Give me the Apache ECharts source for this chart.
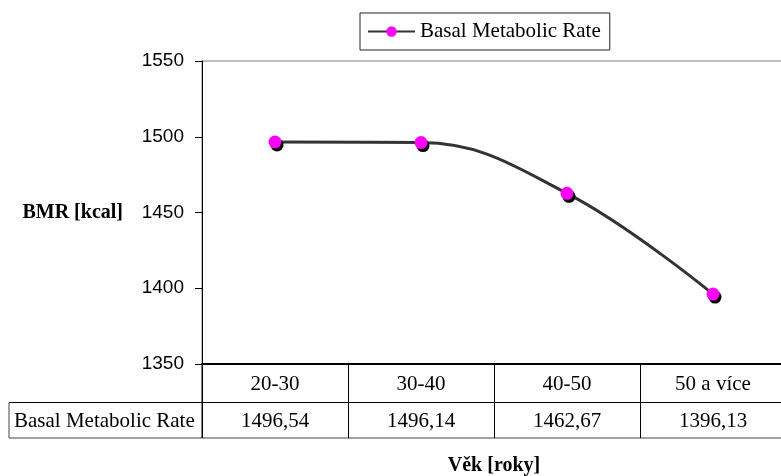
<!DOCTYPE html>
<html>
<head>
<meta charset="utf-8">
<script src="https://cdn.jsdelivr.net/npm/echarts@6/dist/echarts.min.js"></script>
<style>
    html, body { margin: 0; padding: 0; background: #fff; }
    #chart { width: 781px; height: 476px; }
</style>
</head>
<body>
<div id="chart"></div>
<script>
'use strict';
var ageGroups = ['20-30', '30-40', '40-50', '50 a více'];
var bmrValues = [1496.54, 1496.14, 1462.67, 1396.13];
var seriesName = 'Basal Metabolic Rate';
var yTicks = { min: 1350, max: 1550, step: 50 };

var serif = 'Liberation Serif';
var sans = 'Liberation Sans';

// plot area layout
var gridLeft = 202, gridTop = 61, gridBottomY = 364, gridRightX = 786;
var rowSplitY = 402.5, tableBottomY = 438, headerLeftX = 9;

function fmtComma(v) {
    return v.toFixed(2).replace('.', ',');
}

var chart = echarts.init(document.getElementById('chart'));
var option = {
    animation: false,
    backgroundColor: '#fff',
    legend: {
        data: [seriesName],
        left: 360,
        top: 13,
        padding: [8, 9, 8, 7],
        itemWidth: 47,
        itemHeight: 13,
        itemGap: 5,
        borderColor: '#222',
        borderWidth: 1,
        textStyle: { fontFamily: serif, fontSize: 21, color: '#000' },
        itemStyle: { shadowColor: 'rgba(0,0,0,0)', shadowOffsetX: 0, shadowOffsetY: 0 }
    },
    grid: {
        left: gridLeft,
        top: gridTop,
        right: 781 - gridRightX,
        bottom: 476 - gridBottomY,
        outerBoundsMode: 'none',
        containLabel: false,
        show: true,
        borderColor: '#808080',
        borderWidth: 1
    },
    xAxis: {
        type: 'category',
        data: ageGroups,
        boundaryGap: true,
        name: 'Věk [roky]',
        nameLocation: 'middle',
        nameGap: 102,
        nameTextStyle: { fontFamily: serif, fontSize: 20, fontWeight: 'bold', color: '#000', verticalAlign: 'middle' },
        axisLine: { lineStyle: { color: '#000', width: 2 } },
        axisTick: { show: true, inside: false, length: tableBottomY - gridBottomY, lineStyle: { color: '#000', width: 1 } },
        axisLabel: {
            margin: 2,
            fontFamily: serif,
            fontSize: 21,
            lineHeight: 37,
            color: '#000',
            formatter: function (v, i) {
                return v + '\n' + fmtComma(bmrValues[i]);
            }
        },
        splitLine: { show: false }
    },
    yAxis: {
        type: 'value',
        min: yTicks.min,
        max: yTicks.max,
        interval: yTicks.step,
        name: 'BMR [kcal]',
        nameLocation: 'middle',
        nameRotate: 0,
        nameGap: 79,
        nameTextStyle: { fontFamily: serif, fontSize: 20, fontWeight: 'bold', color: '#000', align: 'right', verticalAlign: 'middle' },
        axisLine: { show: true, lineStyle: { color: '#000', width: 1 } },
        axisTick: { show: true, inside: false, length: 7, lineStyle: { color: '#000' } },
        axisLabel: {
            fontFamily: sans, fontSize: 19, color: '#000', margin: 18,
            formatter: function (v) { return String(v); }
        },
        splitLine: { show: false }
    },
    series: [
        {
            name: seriesName,
            type: 'line',
            data: bmrValues,
            smooth: 0.4,
            symbol: 'circle',
            symbolSize: 13,
            lineStyle: { color: '#333', width: 3 },
            itemStyle: {
                color: '#FF00FF',
                borderWidth: 0,
                shadowColor: '#000',
                shadowBlur: 0,
                shadowOffsetX: 2,
                shadowOffsetY: 3
            }
        }
    ],
    graphic: [
        {
            type: 'line',
            shape: { x1: headerLeftX, y1: rowSplitY, x2: 781, y2: rowSplitY },
            style: { stroke: '#000', lineWidth: 1 }
        },
        {
            type: 'line',
            shape: { x1: headerLeftX, y1: tableBottomY, x2: 781, y2: tableBottomY },
            style: { stroke: '#444', lineWidth: 1 }
        },
        {
            type: 'line',
            shape: { x1: headerLeftX, y1: rowSplitY, x2: headerLeftX, y2: tableBottomY },
            style: { stroke: '#444', lineWidth: 1 }
        },
        {
            type: 'line',
            shape: { x1: gridLeft, y1: gridBottomY, x2: gridLeft, y2: tableBottomY },
            style: { stroke: '#000', lineWidth: 1 }
        },
        {
            type: 'text',
            left: 14,
            top: (rowSplitY + tableBottomY) / 2 - 9,
            style: { text: seriesName, font: '21px ' + serif, fill: '#000' }
        }
    ]
};
chart.setOption(option);
</script>
</body>
</html>
